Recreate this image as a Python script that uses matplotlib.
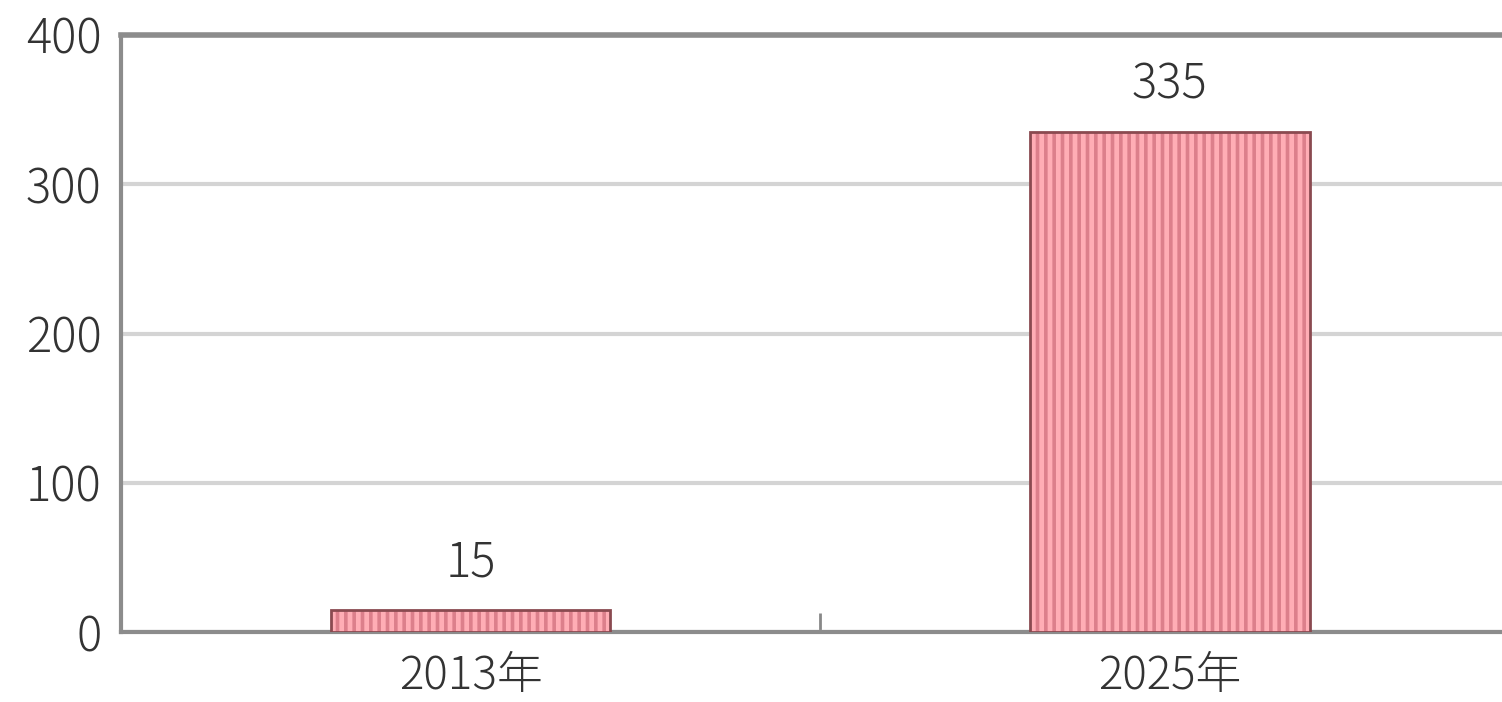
import matplotlib.pyplot as plt

plt.rcParams['font.family'] = ['Noto Sans CJK JP', 'DejaVu Sans']
plt.rcParams['font.weight'] = 'light'
plt.rcParams['hatch.linewidth'] = 2.6

# データ
years = ['2013年', '2025年']
values = [15, 335]
yticks = [0, 100, 200, 300, 400]

fig = plt.figure(figsize=(15.02, 7.02), dpi=100)
ax = fig.add_axes([121/1502, 1 - 632/702, 1 - 121/1502, 597/702])

x = range(len(years))
# 縦縞の塗り
ax.bar(x, values, width=0.4, color='#ffadb5', edgecolor='#dc7f8b', hatch='||', linewidth=0, zorder=3)
# 枠線
ax.bar(x, values, width=0.4, fill=False, edgecolor='#8a4a50', linewidth=2, zorder=4)

for i, v in enumerate(values):
    ax.annotate(str(v), (i, v), xytext=(0, 16), textcoords='offset points',
                ha='center', va='bottom', fontsize=34, color='#333333')

ax.set_xlim(-0.5, 1.475)
ax.set_ylim(0, 400)
ax.set_yticks(yticks)
ax.set_yticklabels([str(t) for t in yticks], fontsize=34, color='#333333')
ax.set_xticks(list(x))
ax.set_xticklabels(years, fontsize=33, color='#333333')
ax.tick_params(axis='y', length=0, pad=14)
ax.tick_params(axis='x', length=0, pad=15)
ax.set_xticks([0.5], minor=True)
ax.tick_params(axis='x', which='minor', direction='in', length=14, width=2, color='#888888')

ax.grid(axis='y', color='#d4d4d4', linewidth=3, zorder=0)
ax.set_axisbelow(True)
ax.spines['right'].set_visible(False)
ax.spines['top'].set_color('#8c8c8c')
ax.spines['top'].set_linewidth(4)
ax.spines['left'].set_color('#8c8c8c')
ax.spines['left'].set_linewidth(3)
ax.spines['bottom'].set_color('#8c8c8c')
ax.spines['bottom'].set_linewidth(3)

fig.savefig('out.png', dpi=100)
